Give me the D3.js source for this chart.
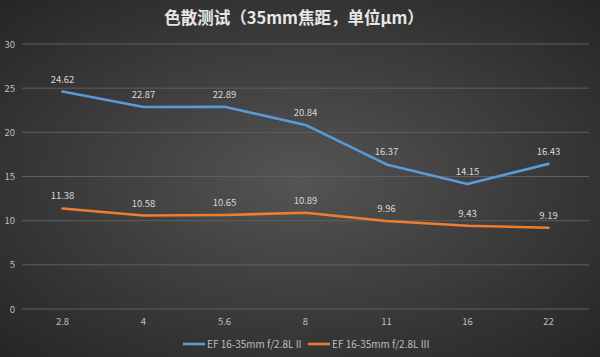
<!DOCTYPE html>
<html><head><meta charset="utf-8">
<script src="https://cdn.jsdelivr.net/npm/d3@7"></script>
<style>body{margin:0;background:#333}svg{display:block}</style>
</head><body>
<svg id="c" width="600" height="357"></svg>
<script>
const categories = ["2.8","4","5.6","8","11","16","22"];
const seriesNames = ["EF 16-35mm f/2.8L II","EF 16-35mm f/2.8L III"];
const seriesII = [24.62,22.87,22.89,20.84,16.37,14.15,16.43];
const seriesIII = [11.38,10.58,10.65,10.89,9.96,9.43,9.19];
const yTicks = [0,5,10,15,20,25,30];
const colors = ["#5b9bd5","#ed7d31"];
const title = "色散测试（35mm焦距，单位μm）";

const svg = d3.select("#c");
const W=600,H=357;
const defs = svg.append("defs");
const rg = defs.append("radialGradient").attr("id","bg").attr("cx","50%").attr("cy","50%").attr("r","70%");
rg.append("stop").attr("offset","0%").attr("stop-color","#545454");
rg.append("stop").attr("offset","100%").attr("stop-color","#262626");
svg.append("rect").attr("width",W).attr("height",H).attr("fill","url(#bg)");

const font = "'Noto Sans CJK SC','Open Sans',sans-serif";
const x = d3.scaleBand().domain(categories).range([22,589]);
const y = d3.scaleLinear().domain([0,30]).range([309,44]);

svg.append("text").attr("x",294).attr("y",24).attr("text-anchor","middle")
  .attr("fill","#e6e6e6").attr("font-size",16.5).attr("font-weight","bold").attr("font-family",font).text(title);

const gy = svg.append("g");
gy.selectAll("line").data(yTicks).join("line")
  .attr("x1",22).attr("x2",589).attr("y1",d=>y(d)).attr("y2",d=>y(d))
  .attr("stroke","#5e5e5e").attr("stroke-width",1);
gy.selectAll("text").data(yTicks).join("text")
  .attr("x",15).attr("y",d=>y(d)+3.5).attr("text-anchor","end")
  .attr("fill","#bfbfbf").attr("font-size",9.5).attr("font-family",font).text(d=>d);

svg.append("g").selectAll("text").data(categories).join("text")
  .attr("x",d=>x(d)+x.bandwidth()/2).attr("y",325).attr("text-anchor","middle")
  .attr("fill","#bfbfbf").attr("font-size",9.5).attr("font-family",font).text(d=>d);

const line = d3.line().x((d,i)=>x(categories[i])+x.bandwidth()/2).y(d=>y(d)).curve(d3.curveLinear);
[seriesII,seriesIII].forEach((s,k)=>{
  svg.append("path").attr("d",line(s)).attr("fill","none").attr("stroke",colors[k])
    .attr("stroke-width",2.6).attr("stroke-linecap","round").attr("stroke-linejoin","round");
  svg.append("g").selectAll("text").data(s).join("text")
    .attr("x",(d,i)=>x(categories[i])+x.bandwidth()/2).attr("y",d=>y(d)-9)
    .attr("text-anchor","middle").attr("fill","#d9d9d9").attr("font-size",9.5).attr("font-family",font)
    .text(d=>d.toFixed(2));
});

const lg = svg.append("g");
const lx = [183,308];
seriesNames.forEach((n,k)=>{
  lg.append("line").attr("x1",lx[k]).attr("x2",lx[k]+22).attr("y1",344).attr("y2",344)
    .attr("stroke",colors[k]).attr("stroke-width",2.6);
  lg.append("text").attr("x",lx[k]+24).attr("y",347.5).attr("fill","#bfbfbf")
    .attr("font-size",10).attr("font-family",font).text(n);
});
</script>
</body></html>
